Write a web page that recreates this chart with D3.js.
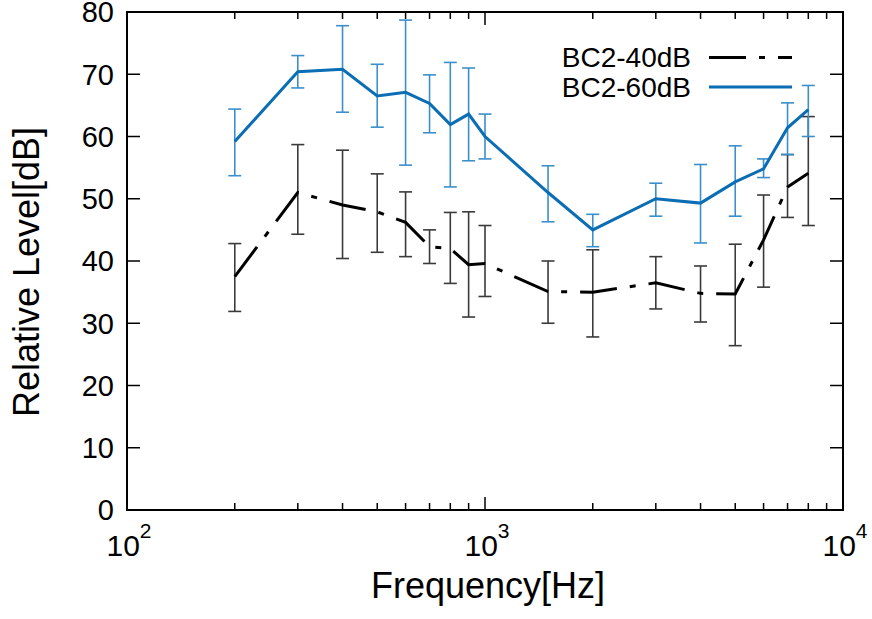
<!DOCTYPE html>
<html>
<head>
    <meta charset="UTF-8">
    <title>Relative Level</title>
    <style>
        body {
            margin: 0;
            background: #fff;
        }

        text {
            font-family: "Liberation Sans", Arial, sans-serif;
            fill: #000;
        }
    </style>
</head>
<body>
<div id="chart"></div>
<script src="https://d3js.org/d3.v7.min.js"></script>
<script>

    // frequencies (Hz) of each measurement
    var freqs = [200, 300, 400, 500, 600, 700, 800, 900, 1000, 1500, 2000, 3000, 4000, 5000, 6000, 7000, 8000];

    // BC2-40dB mean, low and high of error bar
    var bc40 = [37.5, 51.0, 49.0, 47.9, 46.2, 42.3, 42.0, 39.4, 39.6, 35.1, 35.0, 36.5, 34.8, 34.7, 43.4, 51.9, 54.1];
    var bc40Lo = [31.9, 44.3, 40.4, 41.4, 40.7, 39.6, 36.4, 31.0, 34.3, 30.0, 27.8, 32.3, 30.2, 26.4, 35.8, 47.0, 45.7];
    var bc40Hi = [42.8, 58.7, 57.8, 54.0, 51.1, 45.0, 47.8, 47.9, 45.7, 40.0, 41.8, 40.7, 39.2, 42.7, 50.6, 57.1, 63.2];

    // BC2-60dB mean, low and high of error bar
    var bc60 = [59.2, 70.4, 70.8, 66.5, 67.1, 65.3, 61.9, 63.6, 60.0, 51.0, 45.0, 50.0, 49.3, 52.7, 54.8, 61.4, 64.3];
    var bc60Lo = [53.7, 67.8, 63.9, 61.5, 55.4, 60.6, 51.9, 56.1, 56.4, 46.3, 42.3, 47.2, 42.9, 47.2, 53.4, 57.1, 60.0];
    var bc60Hi = [64.4, 73.0, 77.8, 71.6, 78.7, 69.9, 71.9, 71.0, 63.6, 55.3, 47.5, 52.5, 55.5, 58.5, 56.4, 65.4, 68.2];

    var yTicks = [0, 10, 20, 30, 40, 50, 60, 70, 80];
    var xMajor = [100, 1000, 10000];
    var xMinor = [200, 300, 400, 500, 600, 700, 800, 900, 2000, 3000, 4000, 5000, 6000, 7000, 8000, 9000];
    var seriesNames = ["BC2-40dB", "BC2-60dB"];

    var width = 872,
        height = 619,
        plotLeft = 127,
        plotRight = 843,
        plotTop = 12,
        plotBottom = 510;

    var svg = d3.select("#chart").append("svg")
        .attr("width", width)
        .attr("height", height);

    var x = d3.scaleLog().domain([100, 10000]).range([plotLeft, plotRight]);
    var y = d3.scaleLinear().domain([0, 80]).range([plotBottom, plotTop]);

    function toRows(mean, lo, hi) {
        return freqs.map(function (f, i) {
            return {f: f, v: mean[i], lo: lo[i], hi: hi[i]};
        });
    }

    var series = [
        {name: seriesNames[0], rows: toRows(bc40, bc40Lo, bc40Hi), line: "#000", bar: "#3a3a3a", dash: "37,13,6,13", width: 3},
        {name: seriesNames[1], rows: toRows(bc60, bc60Lo, bc60Hi), line: "#0b6db3", bar: "#3b8fcb", dash: null, width: 3}
    ];

    // ticks
    var ticks = svg.append("g").attr("stroke", "#000").attr("stroke-width", 1.5);
    yTicks.forEach(function (t) {
        if (t === 0 || t === 80) return;
        ticks.append("line").attr("x1", plotLeft).attr("x2", plotLeft + 13).attr("y1", y(t)).attr("y2", y(t));
        ticks.append("line").attr("x1", plotRight).attr("x2", plotRight - 13).attr("y1", y(t)).attr("y2", y(t));
    });
    xMajor.forEach(function (t) {
        ticks.append("line").attr("x1", x(t)).attr("x2", x(t)).attr("y1", plotBottom).attr("y2", plotBottom - 13);
        ticks.append("line").attr("x1", x(t)).attr("x2", x(t)).attr("y1", plotTop).attr("y2", plotTop + 13);
    });
    xMinor.forEach(function (t) {
        ticks.append("line").attr("x1", x(t)).attr("x2", x(t)).attr("y1", plotBottom).attr("y2", plotBottom - 7);
        ticks.append("line").attr("x1", x(t)).attr("x2", x(t)).attr("y1", plotTop).attr("y2", plotTop + 7);
    });

    // y tick labels
    svg.append("g").selectAll("text")
        .data(yTicks).enter()
        .append("text")
        .attr("font-size", "29px")
        .attr("x", 114)
        .attr("y", function (d) {
            return y(d);
        })
        .attr("dy", "0.36em")
        .attr("text-anchor", "end")
        .text(function (d) {
            return d;
        });

    // x tick labels, 10^n
    var xl = svg.append("g").selectAll("text")
        .data(xMajor).enter()
        .append("text")
        .attr("font-size", "30px")
        .attr("x", function (d) {
            return x(d) + 2;
        })
        .attr("y", 556)
        .attr("text-anchor", "middle");
    xl.append("tspan").text("10");
    xl.append("tspan")
        .attr("dy", -18)
        .attr("font-size", "21px")
        .text(function (d) {
            return Math.round(Math.log10(d));
        });

    // error bars and lines
    var line = d3.line()
        .x(function (d) {
            return x(d.f);
        })
        .y(function (d) {
            return y(d.v);
        });

    series.forEach(function (s) {
        var g = svg.append("g");
        var bars = g.selectAll(".bar").data(s.rows).enter().append("g")
            .attr("stroke", s.bar)
            .attr("stroke-width", 1.6);
        bars.append("line")
            .attr("x1", function (d) { return x(d.f); })
            .attr("x2", function (d) { return x(d.f); })
            .attr("y1", function (d) { return y(d.lo); })
            .attr("y2", function (d) { return y(d.hi); });
        bars.append("line")
            .attr("x1", function (d) { return x(d.f) - 6.5; })
            .attr("x2", function (d) { return x(d.f) + 6.5; })
            .attr("y1", function (d) { return y(d.lo); })
            .attr("y2", function (d) { return y(d.lo); });
        bars.append("line")
            .attr("x1", function (d) { return x(d.f) - 6.5; })
            .attr("x2", function (d) { return x(d.f) + 6.5; })
            .attr("y1", function (d) { return y(d.hi); })
            .attr("y2", function (d) { return y(d.hi); });

        g.append("path")
            .datum(s.rows)
            .attr("d", line)
            .attr("fill", "none")
            .attr("stroke", s.line)
            .attr("stroke-width", s.width)
            .attr("stroke-dasharray", s.dash);
    });

    // frame
    svg.append("rect")
        .attr("x", plotLeft)
        .attr("y", plotTop)
        .attr("width", plotRight - plotLeft)
        .attr("height", plotBottom - plotTop)
        .attr("fill", "none")
        .attr("stroke", "#000")
        .attr("stroke-width", 2);

    // legend
    var legend = svg.append("g");
    series.forEach(function (s, i) {
        var ly = 57.5 + i * 29.5;
        legend.append("text")
            .attr("font-size", "28px")
            .attr("x", 691)
            .attr("y", ly + 9.5)
            .attr("text-anchor", "end")
            .text(s.name);
        legend.append("line")
            .attr("x1", 709)
            .attr("x2", 792)
            .attr("y1", ly)
            .attr("y2", ly)
            .attr("stroke", s.line)
            .attr("stroke-width", s.width)
            .attr("stroke-dasharray", s.dash);
    });

    // axis titles
    svg.append("text")
        .attr("font-size", "36px")
        .attr("x", 488)
        .attr("y", 598)
        .attr("text-anchor", "middle")
        .text("Frequency[Hz]");

    svg.append("text")
        .attr("font-size", "36px")
        .attr("transform", "translate(39,272) rotate(-90)")
        .attr("text-anchor", "middle")
        .text("Relative Level[dB]");

</script>
</body>
</html>
